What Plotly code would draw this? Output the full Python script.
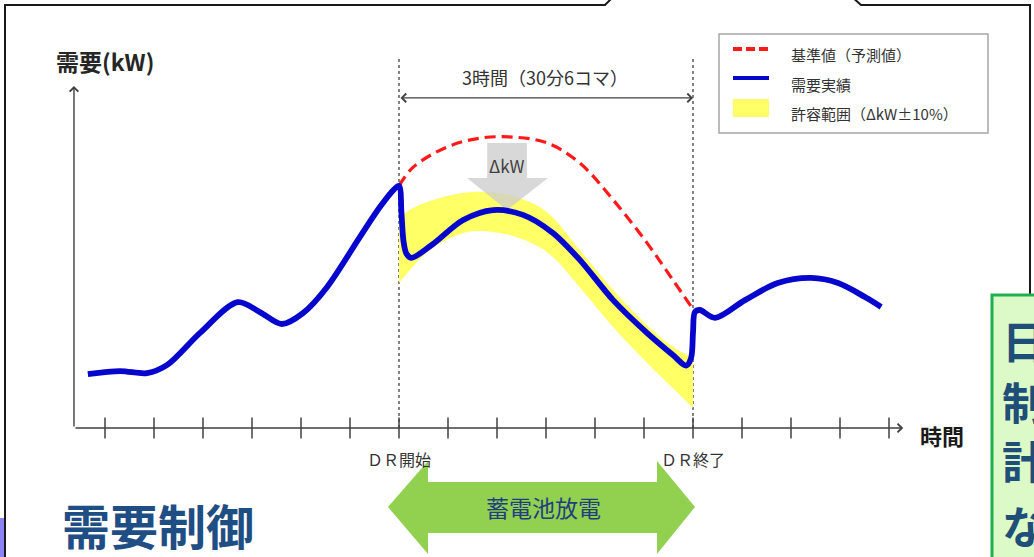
import plotly.graph_objects as go

W, H = 1034, 557
FONT = "Noto Sans CJK JP"

# ---- time axis: 30-minute slots; the DR window spans slots 6..12 (3 hours) ----
TICKS = list(range(0, 17))
DR_START, DR_END = 6, 12
TICK_LABELS = ["ＤＲ開始", "ＤＲ終了"]

# ---- actual demand (需要実績) ----
actual_x = [-0.35, 0.31, 0.86, 1.27, 1.94, 2.71, 3.16, 3.61, 4.04, 4.53, 5.20, 5.61,
            5.90, 6.00, 6.05, 6.09, 6.15, 6.25, 6.67, 7.31, 7.92, 8.53, 9.14, 9.69,
            10.37, 11.06, 11.59, 11.86, 11.96, 12.00, 12.04, 12.14, 12.45, 13.06,
            13.73, 14.41, 14.96, 15.51, 15.84]
actual_y = [15.8, 16.7, 16.1, 18.5, 27.9, 36.9, 34.0, 30.5, 33.7, 41.3, 56.0, 64.8,
            70.0, 71.0, 63.0, 55.0, 51.2, 49.9, 53.7, 61.0, 63.9, 62.5, 57.2, 49.3,
            37.5, 27.9, 21.4, 18.3, 20.5, 28.0, 34.0, 34.6, 32.3, 37.5,
            42.5, 44.0, 42.5, 38.4, 35.5]

# ---- baseline forecast (基準値) inside the DR window ----
base_x = [6.00, 6.29, 6.98, 7.65, 8.33, 9.02, 9.69, 10.37, 11.06, 11.59, 12.02]
base_y = [71.0, 76.5, 82.4, 85.0, 85.3, 83.6, 77.7, 66.9, 54.3, 43.4, 34.4]

# ---- tolerance band (許容範囲) ----
band_upper_x = [6.00, 6.29, 6.98, 7.51, 8.00, 8.47, 9.02, 9.69, 10.37, 11.06, 11.59, 12.00]
band_upper_y = [61.6, 64.5, 68.0, 69.2, 68.9, 67.4, 63.3, 52.2, 40.5, 30.2, 23.8, 20.5]
band_lower_x = [6.00, 6.63, 7.31, 7.65, 8.33, 9.02, 9.69, 10.37, 11.06, 11.73, 12.00]
band_lower_y = [42.5, 52.2, 57.2, 57.8, 56.3, 51.6, 41.3, 29.6, 19.1, 9.7, 5.9]

# ---- canvas scale: slot 0 sits at 105 px, 49 px per slot; zero demand at 428 px ----
X0_PX, X_STEP = 105, 49.0
Y0_PX, Y_STEP = 428, 3.41
x_range = [-X0_PX / X_STEP, (W - X0_PX) / X_STEP]
y_range = [(Y0_PX - H) / Y_STEP, Y0_PX / Y_STEP]
Y_TOP = 100.3          # top of the demand axis arrow
X_END = 16.29          # tip of the time axis arrow
Y_AXIS_X = -0.633      # position of the demand axis
SPAN_Y = 96.8          # height of the 3-hour span arrow
DR_LINE_TOP = 108.5


def px(x):
    return x / W


def py(y):
    return 1 - y / H


def poly_path(points):
    return "M" + "L".join(f"{px(a):.5f},{py(b):.5f}" for a, b in points) + "Z"


fig = go.Figure()

# tolerance band
fig.add_trace(go.Scatter(x=band_upper_x, y=band_upper_y, mode="lines",
                         line=dict(width=0, shape="spline", color="rgba(0,0,0,0)"),
                         hoverinfo="skip", showlegend=False))
fig.add_trace(go.Scatter(x=band_lower_x, y=band_lower_y, mode="lines",
                         line=dict(width=0, shape="spline", color="rgba(0,0,0,0)"),
                         fill="tonexty", fillcolor="#ffff66",
                         hoverinfo="skip", showlegend=False))

# ΔkW block arrow from the baseline peak down to the actual peak
peak_actual = max(v for u, v in zip(actual_x, actual_y) if DR_START + 0.5 < u < DR_END)
arrow_top = max(base_y) - 1.7
neck = arrow_top - 10.3
cx = 8.20
arrow_x = [cx - 0.40, cx + 0.41, cx + 0.41, cx + 0.84, cx, cx - 0.81, cx - 0.40, cx - 0.40]
arrow_y = [arrow_top, arrow_top, neck, neck, peak_actual, neck, neck, arrow_top]
fig.add_trace(go.Scatter(x=arrow_x, y=arrow_y, mode="lines", fill="toself",
                         fillcolor="rgba(205,205,205,0.78)", line=dict(width=0),
                         hoverinfo="skip", showlegend=False))

# baseline and actual demand
fig.add_trace(go.Scatter(x=base_x, y=base_y, mode="lines",
                         line=dict(color="#ff1a1a", width=3.2, dash="11px,6px",
                                   shape="spline", smoothing=1),
                         showlegend=False))
fig.add_trace(go.Scatter(x=actual_x, y=actual_y, mode="lines",
                         line=dict(color="#0606cc", width=5.8, shape="spline", smoothing=0.9),
                         showlegend=False))

# tick marks across the time axis
fig.add_trace(go.Scatter(x=TICKS, y=[0] * len(TICKS), mode="markers",
                         marker=dict(symbol="line-ns", size=15,
                                     line=dict(width=1.5, color="#404040")),
                         cliponaxis=False, hoverinfo="skip", showlegend=False))

shapes = []
# DR start / end dashed guides
for xv in (DR_START, DR_END):
    shapes.append(dict(type="line", xref="x", yref="y", x0=xv, x1=xv, y0=0, y1=DR_LINE_TOP,
                       line=dict(color="#333333", width=1.2, dash="3px,3px"), layer="below"))

# slide frame with a callout notch at the top
shapes.append(dict(type="path", xref="paper", yref="paper",
                   path="M" + "L".join(f"{px(a):.5f},{py(b):.5f}" for a, b in
                                       [(5, 560), (5, 5), (605, 5), (614, -4)]),
                   line=dict(color="#1a1a1a", width=2)))
shapes.append(dict(type="path", xref="paper", yref="paper",
                   path="M" + "L".join(f"{px(a):.5f},{py(b):.5f}" for a, b in
                                       [(851, -4), (861, 5), (1030, 5), (1030, 300)]),
                   line=dict(color="#1a1a1a", width=2)))

# legend box
LX0, LY0, LX1, LY1 = 719, 34, 988, 133
shapes.append(dict(type="rect", xref="paper", yref="paper", x0=px(LX0), x1=px(LX1),
                   y0=py(LY1), y1=py(LY0), line=dict(color="#a6a6a6", width=1.5),
                   fillcolor="white"))
shapes.append(dict(type="line", xref="paper", yref="paper", x0=px(733), x1=px(769),
                   y0=py(49), y1=py(49), line=dict(color="#ff1a1a", width=4, dash="9px,4px")))
shapes.append(dict(type="line", xref="paper", yref="paper", x0=px(733), x1=px(769),
                   y0=py(78), y1=py(78), line=dict(color="#0606cc", width=4)))
shapes.append(dict(type="rect", xref="paper", yref="paper", x0=px(733), x1=px(769),
                   y0=py(117), y1=py(99), line=dict(width=0), fillcolor="#ffff66"))

# battery discharge double arrow
shapes.append(dict(type="path", xref="paper", yref="paper",
                   path=poly_path([(388, 507), (428, 461), (428, 482), (657, 482), (657, 461),
                                   (695, 507), (657, 554), (657, 533), (428, 533), (428, 554)]),
                   line=dict(width=0), fillcolor="#92d050"))

# neighbouring panel on the right
shapes.append(dict(type="rect", xref="paper", yref="paper", x0=px(992), x1=px(1045),
                   y0=py(570), y1=py(295), line=dict(color="#1fb04e", width=3),
                   fillcolor="#dcf9c8"))
# edge of the neighbouring element at the bottom-left
shapes.append(dict(type="rect", xref="paper", yref="paper", x0=px(-2), x1=px(4),
                   y0=py(560), y1=py(518), line=dict(width=0), fillcolor="#8c84f4"))

ann = []


def text(xp, yp, s, size, color="#333333", bold=False, xanchor="center"):
    ann.append(dict(x=px(xp), y=py(yp), xref="paper", yref="paper", text=s, showarrow=False,
                    xanchor=xanchor, yanchor="middle",
                    font=dict(family=FONT, size=size, color=color,
                              weight=700 if bold else 400)))


def arrow(x_head, y_head, x_tail, y_tail, both=False):
    d = dict(x=x_head, y=y_head, ax=x_tail, ay=y_tail, xref="x", yref="y", axref="x",
             ayref="y", text="", showarrow=True, arrowhead=4, arrowsize=1.2,
             arrowwidth=1.4, arrowcolor="#404040")
    if both:
        d.update(arrowside="end+start", startarrowhead=4, startarrowsize=1.2)
    ann.append(d)


arrow(Y_AXIS_X, Y_TOP, Y_AXIS_X, 0)
arrow(X_END, 0, Y_AXIS_X, 0)
arrow(DR_END, SPAN_Y, DR_START, SPAN_Y, both=True)

text(105, 61, "需要(kW)", 23, "#262626", bold=True)
text(942, 435, "時間", 22, "#1a1a1a", bold=True)
text(545, 77, "3時間（30分6コマ）", 18)
for xv, lab in zip((DR_START, DR_END), TICK_LABELS):
    ann.append(dict(x=xv, y=py(459), xref="x", yref="paper", text=lab, showarrow=False,
                    xanchor="center", yanchor="middle",
                    font=dict(family=FONT, size=16, color="#333333")))
ann.append(dict(x=cx, y=neck + 3.8, xref="x", yref="y", text="ΔkW",
                showarrow=False, font=dict(family=FONT, size=17, color="#404040")))

text(789, 54, "基準値（予測値）", 15, xanchor="left")
text(789, 84, "需要実績", 15, xanchor="left")
text(789, 113, "許容範囲（ΔkW±10%）", 15, xanchor="left")

text(543, 507, "蓄電池放電", 23, "#203f7f")
text(158, 524, "需要制御", 48, "#1f4e85", bold=True)

for yp, s in zip((340, 401, 460, 525), ("日々の", "制御の", "計画値", "など")):
    text(1000, yp, s, 44, "#1f4e79", bold=True, xanchor="left")

fig.update_layout(
    width=W, height=H, autosize=False,
    margin=dict(l=0, r=0, t=0, b=0, pad=0),
    paper_bgcolor="white", plot_bgcolor="white",
    xaxis=dict(range=x_range, visible=False, fixedrange=True),
    yaxis=dict(range=y_range, visible=False, fixedrange=True),
    shapes=shapes, annotations=ann, showlegend=False,
)

fig.write_html("out.html")
